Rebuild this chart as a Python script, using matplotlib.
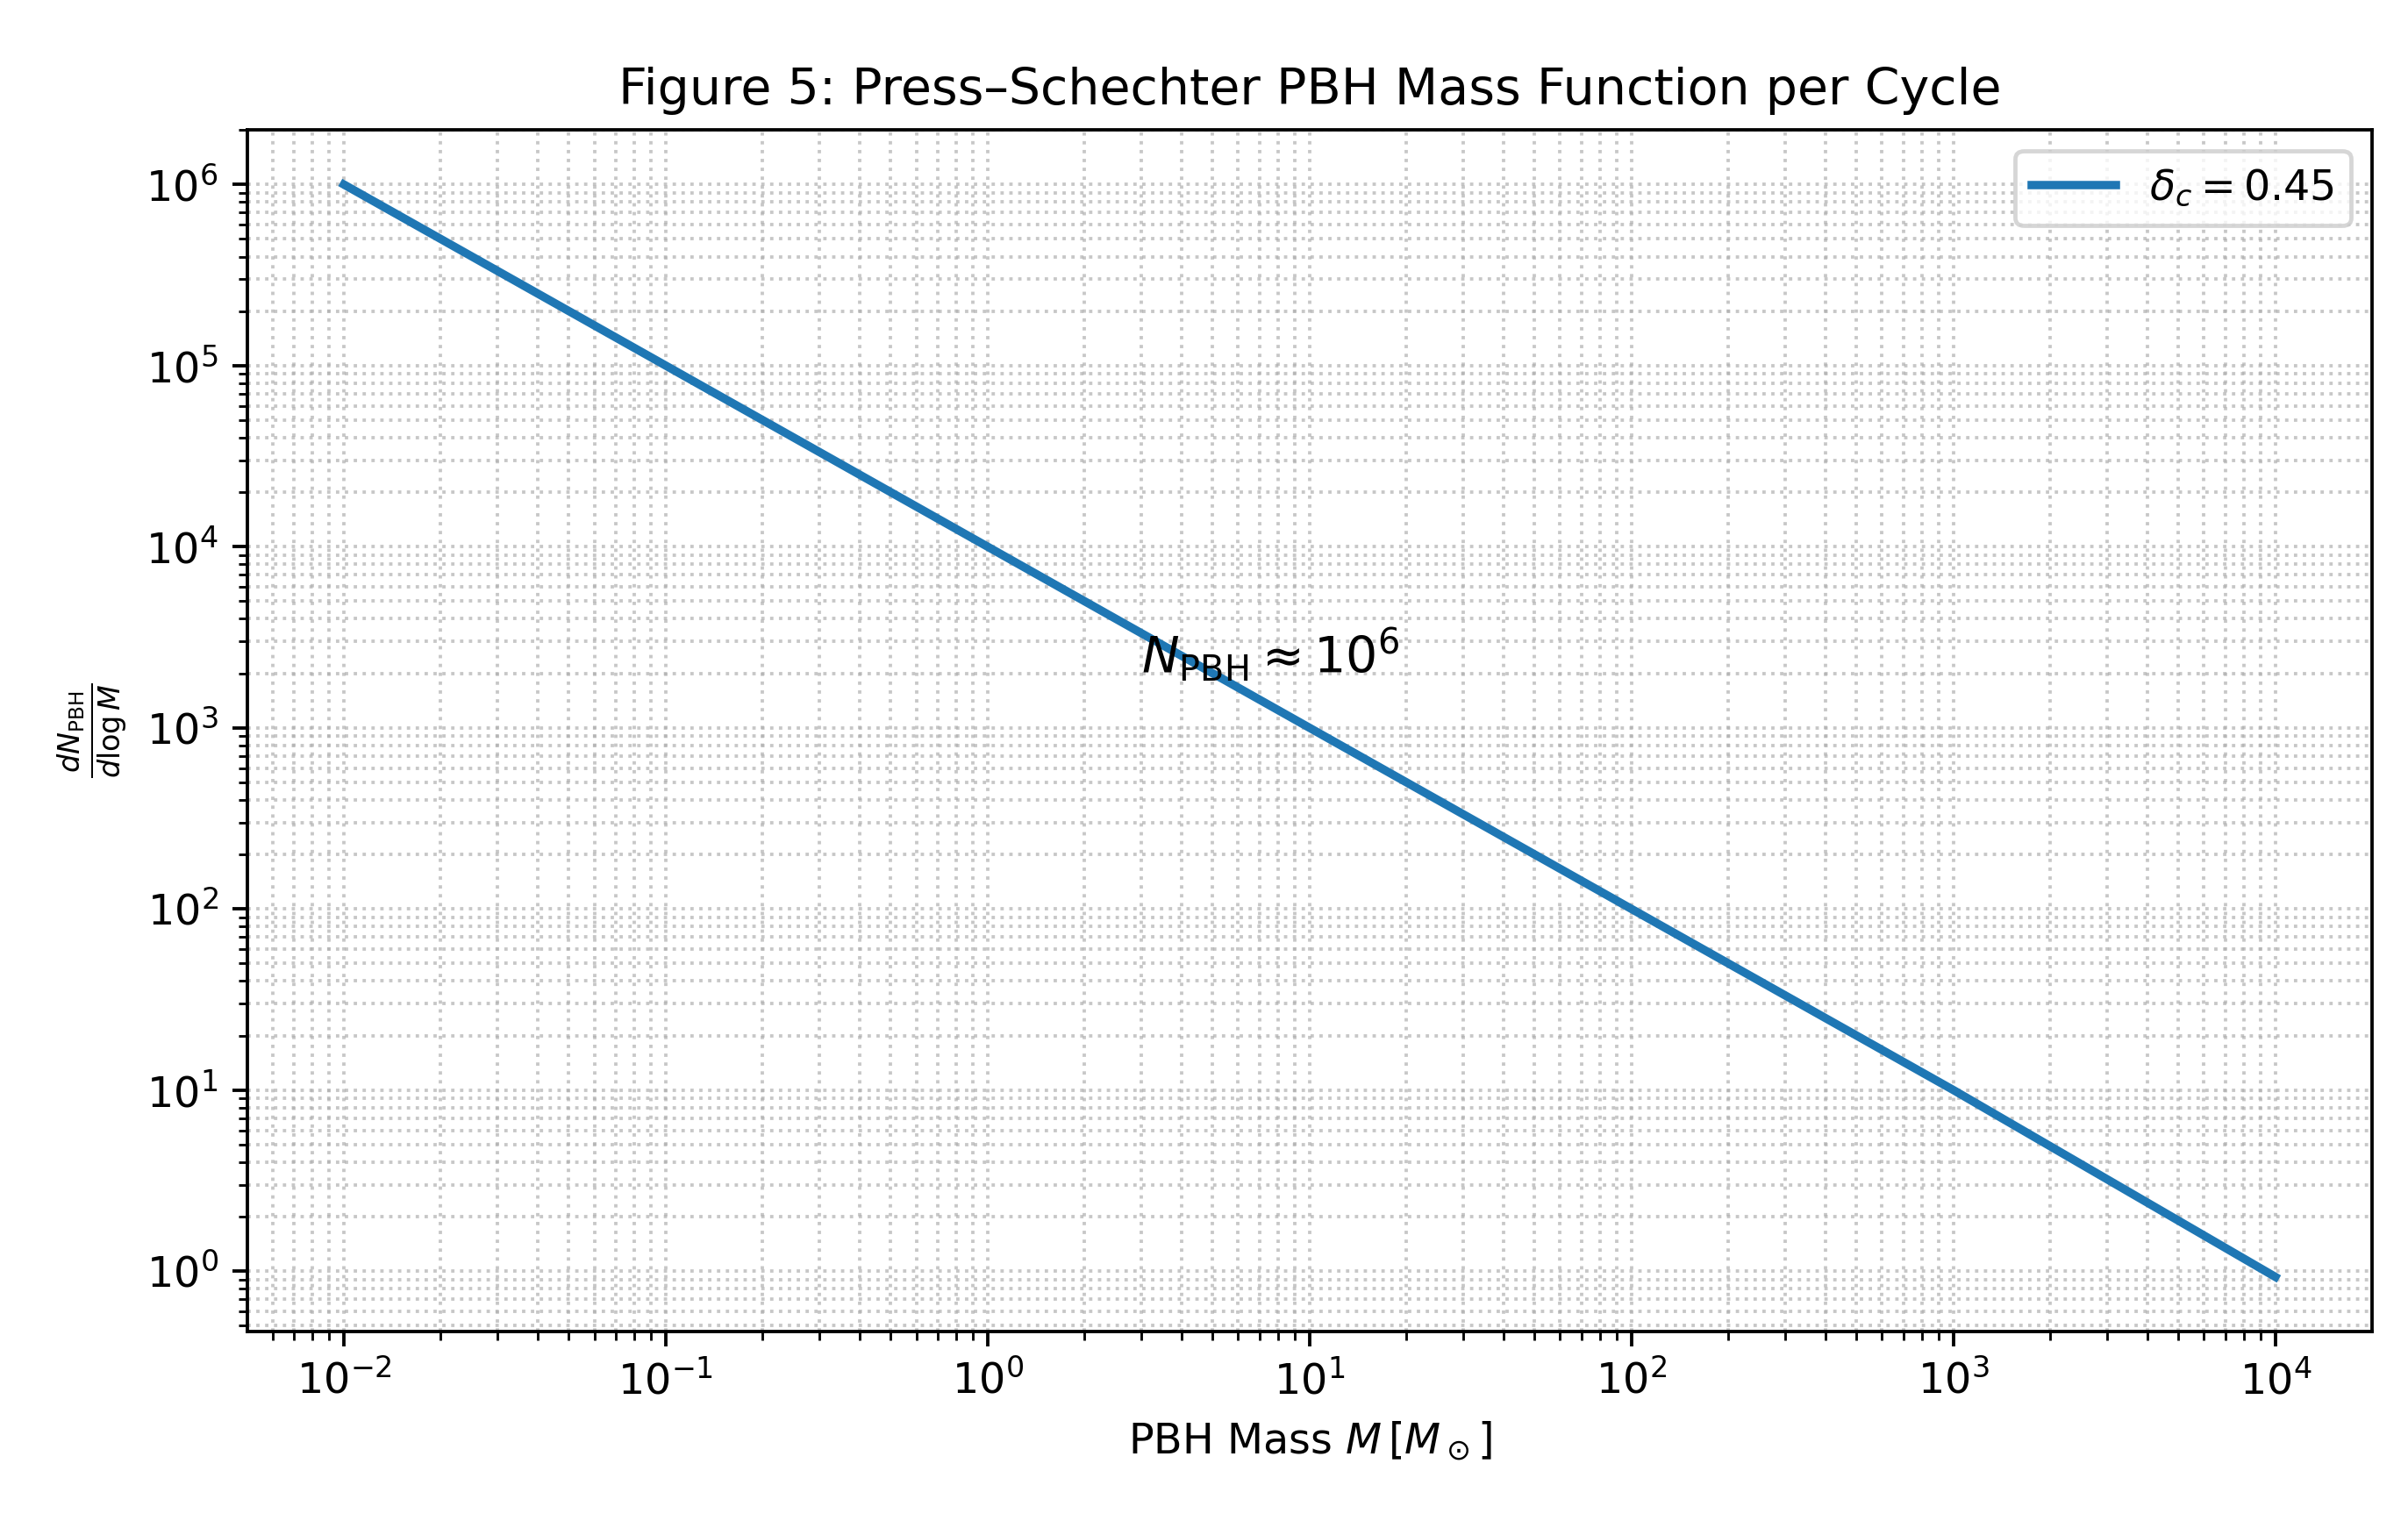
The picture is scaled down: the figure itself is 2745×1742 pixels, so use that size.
import numpy as np
import matplotlib
matplotlib.use("Agg")
import matplotlib.pyplot as plt

# Значения (прямая в log-log)
mass = [1e-2, 1e-1, 1e0, 1e1, 1e2, 1e3, 1e4]
dn_dlogm = [1e6, 1e5, 1e4, 1e3, 1e2, 1e1, 0.93]
delta_c = 0.45

fig = plt.figure(figsize=(2745 / 343, 1742 / 343), dpi=343)
ax = fig.add_axes([0.1027, 0.1286, 0.8823, 0.7864])

ax.loglog(mass, dn_dlogm, lw=2, color='tab:blue', label=rf'$\delta_c = {delta_c}$')
ax.text(3, 2.0e3, r'$N_{\rm PBH} \approx 10^6$', fontsize=12)

ax.set_xlabel(r'PBH Mass $M\,[M_\odot]$')
ax.set_ylabel(r'$\frac{dN_{\rm PBH}}{d\log M}$')
ax.set_title('Figure 5: Press–Schechter PBH Mass Function per Cycle', fontsize=12)
ax.grid(True, which='both', ls=':', lw=0.8, alpha=0.7)
ax.legend(loc='upper right')

fig.savefig('out.png', dpi=343)
